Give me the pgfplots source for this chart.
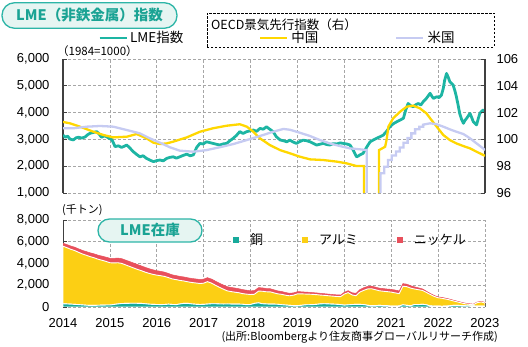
\documentclass[border=0pt]{standalone}
\usepackage{fontspec}
\setmainfont{Liberation Sans}
\newfontfamily\jp{Noto Sans CJK JP}
\newfontfamily\jpp{Noto Sans CJK JP}[CharacterWidth=Proportional]
\usepackage{pgfplots}
\pgfplotsset{compat=1.18}
\usepackage{pgfplotstable}

\definecolor{lmeteal}{HTML}{1DB5A3}
\definecolor{cuteal}{HTML}{17AA9B}
\definecolor{cnyel}{HTML}{FFD700}
\definecolor{alyel}{HTML}{FCCF14}
\definecolor{uslav}{HTML}{C6CBF2}
\definecolor{nired}{HTML}{E8505C}
\definecolor{gridgray}{HTML}{A6A6A6}
\definecolor{axdark}{HTML}{404040}
\definecolor{titleteal}{HTML}{1AA394}
\definecolor{titleline}{HTML}{2DB5A7}
\definecolor{titlefill}{HTML}{E6F5F2}

\pgfplotstableread{
x cu al ni
2014.00 300 5290 270
2014.08 280 5180 290
2014.17 260 5040 300
2014.25 240 4950 310
2014.33 220 4810 320
2014.42 190 4680 330
2014.50 160 4590 340
2014.58 150 4480 350
2014.67 150 4370 360
2014.75 160 4230 370
2014.83 170 4130 380
2014.92 180 4010 390
2015.00 180 3890 410
2015.08 230 3820 420
2015.17 280 3790 430
2015.25 320 3690 440
2015.33 330 3550 440
2015.42 340 3390 450
2015.50 340 3260 450
2015.58 340 3130 450
2015.67 330 3010 440
2015.75 300 2910 440
2015.83 260 2840 430
2015.92 240 2760 420
2016.00 230 2700 410
2016.08 220 2660 400
2016.17 230 2580 390
2016.25 260 2440 380
2016.33 230 2350 380
2016.42 220 2290 370
2016.50 280 2160 370
2016.58 340 2050 370
2016.67 330 1980 370
2016.75 280 1970 370
2016.83 250 1960 370
2016.92 230 1930 370
2017.00 240 1950 370
2017.08 270 2060 370
2017.17 300 1890 370
2017.25 300 1700 380
2017.33 280 1540 380
2017.42 270 1370 380
2017.50 280 1210 380
2017.58 270 1150 380
2017.67 260 1100 380
2017.75 260 1050 370
2017.83 250 980 370
2017.92 210 970 360
2018.00 230 920 340
2018.08 330 840 330
2018.17 380 1080 320
2018.25 300 1150 310
2018.33 280 1120 300
2018.42 260 1130 290
2018.50 260 1040 280
2018.58 250 960 270
2018.67 210 950 260
2018.75 180 900 250
2018.83 150 880 230
2018.92 130 960 210
2019.00 130 1080 200
2019.08 150 1060 190
2019.17 200 990 180
2019.25 210 970 170
2019.33 220 940 160
2019.42 250 880 160
2019.50 290 800 160
2019.58 300 770 150
2019.67 280 750 150
2019.75 260 740 150
2019.83 250 720 150
2019.92 220 730 150
2020.00 170 1020 160
2020.08 200 1120 180
2020.17 230 870 200
2020.25 240 800 220
2020.33 240 1130 230
2020.42 220 1320 240
2020.50 150 1510 240
2020.58 120 1560 240
2020.67 130 1450 240
2020.75 150 1340 240
2020.83 130 1320 240
2020.92 120 1290 240
2021.00 80 1290 250
2021.08 80 1220 260
2021.17 100 1130 250
2021.25 200 1710 240
2021.33 150 1720 230
2021.42 120 1610 220
2021.50 230 1420 200
2021.58 220 1370 170
2021.67 250 1270 140
2021.75 200 1140 110
2021.83 100 1060 90
2021.92 90 880 80
2022.00 80 770 80
2022.08 70 730 80
2022.17 80 645 75
2022.25 120 530 70
2022.33 150 405 65
2022.42 150 310 60
2022.50 130 240 60
2022.58 120 170 60
2022.67 110 135 55
2022.75 100 105 55
2022.83 90 305 55
2022.92 80 385 55
2023.00 70 295 55
}\stock

\pgfplotsset{
  base/.style={
    scale only axis, width=422pt, anchor=south west,
    xmin=2014, xmax=2023,
    tick label style={font=\fontsize{13}{15}\selectfont},
    /pgf/number format/assume math mode=true,
    /pgf/number format/1000 sep={,},
    tick style={axdark, line width=0.8pt},
    tick align=inside, major tick length=4pt,
    grid style={gridgray, line width=0.6pt, dash pattern=on 3pt off 2pt},
  }
}

\begin{document}
\begin{tikzpicture}
\path[use as bounding box] (0pt,0pt) rectangle (528pt,347pt);

% ---------- top: LME index ----------
\begin{axis}[base, at={(63pt,154pt)}, height=134pt,
  ymin=1000, ymax=6000, ytick={1000,2000,...,6000},
  xtick={2014,...,2023}, xticklabels={}, xtick style={draw=none},
  grid=major,
  axis y line*=left, axis x line*=bottom,
  y axis line style={-, draw=axdark, line width=1.3pt},
  x axis line style={draw=none},
  yticklabel style={xshift=-10pt},
  legend style={at={(0.083,1.157)}, anchor=west, draw=none, fill=none,
    inner sep=0pt, nodes={inner sep=0pt, font=\jp\fontsize{13.5}{15}\selectfont}},
  legend image code/.code={\draw[#1] (0pt,0pt) -- (27pt,0pt);},
]
\addplot[lmeteal, line width=2.8pt, line join=round] table {
2014.00 3160
2014.05 3080
2014.10 3120
2014.15 3010
2014.22 2980
2014.28 3060
2014.33 3080
2014.40 3050
2014.47 3090
2014.53 3180
2014.58 3230
2014.65 3260
2014.72 3290
2014.77 3200
2014.82 3080
2014.88 3130
2014.93 3100
2014.98 3040
2015.04 3000
2015.08 2850
2015.11 2730
2015.18 2760
2015.25 2700
2015.30 2740
2015.36 2790
2015.43 2670
2015.50 2540
2015.57 2440
2015.64 2350
2015.71 2390
2015.78 2290
2015.85 2230
2015.93 2170
2016.00 2210
2016.07 2230
2016.14 2200
2016.21 2290
2016.28 2330
2016.35 2350
2016.42 2300
2016.49 2350
2016.56 2400
2016.64 2450
2016.71 2390
2016.78 2420
2016.85 2700
2016.92 2850
2016.99 2830
2017.06 2910
2017.13 2880
2017.20 2850
2017.27 2820
2017.34 2790
2017.41 2830
2017.49 2850
2017.56 2950
2017.63 3040
2017.70 3150
2017.77 3290
2017.84 3220
2017.92 3290
2017.99 3320
2018.06 3350
2018.13 3300
2018.20 3410
2018.27 3380
2018.34 3470
2018.41 3380
2018.48 3290
2018.55 3100
2018.63 2980
2018.70 2950
2018.77 2910
2018.84 2970
2018.91 2900
2018.98 2850
2019.05 2920
2019.12 2970
2019.20 2950
2019.27 2910
2019.34 2850
2019.41 2790
2019.48 2820
2019.55 2850
2019.62 2810
2019.69 2790
2019.76 2840
2019.84 2830
2019.91 2870
2019.98 2850
2020.05 2830
2020.12 2790
2020.19 2600
2020.26 2350
2020.30 2380
2020.33 2420
2020.40 2480
2020.48 2720
2020.55 2910
2020.62 2980
2020.69 3040
2020.76 3100
2020.83 3160
2020.90 3300
2020.97 3470
2021.04 3580
2021.12 3660
2021.19 3720
2021.26 3790
2021.31 4100
2021.36 4340
2021.42 4250
2021.47 4220
2021.53 4300
2021.58 4340
2021.63 4280
2021.68 4400
2021.75 4530
2021.80 4650
2021.83 4720
2021.87 4600
2021.90 4530
2021.97 4590
2022.02 4560
2022.07 4650
2022.11 4900
2022.14 5210
2022.18 5460
2022.22 5300
2022.25 5150
2022.32 5030
2022.36 4800
2022.39 4590
2022.43 4250
2022.46 3970
2022.50 3750
2022.54 3600
2022.57 3700
2022.61 3790
2022.68 3970
2022.72 3800
2022.75 3660
2022.82 3540
2022.86 3800
2022.89 3970
2022.93 4050
2022.96 4100
2023.00 4030
};
\addlegendentry{\hspace*{2pt}LME指数}
\end{axis}

% ---------- top: OECD CLI (right axis) ----------
\begin{axis}[base, at={(63pt,154pt)}, height=134pt,
  ymin=96, ymax=106, ytick={96,98,...,106},
  xtick=\empty,
  axis y line*=right, axis x line=none,
  y axis line style={-, draw=axdark, line width=1.3pt},
  yticklabel style={xshift=8pt},
  legend columns=2,
  legend style={at={(0.282,1.157)}, anchor=west, draw=none, fill=none,
    inner sep=0pt, /tikz/column sep=0pt,
    nodes={inner sep=0pt, font=\jp\fontsize{13.5}{15}\selectfont}},
  legend image code/.code={\path[draw=none,fill=none] (-78pt,0pt) -- (0pt,0pt); \draw[#1] (0pt,0pt) -- (27pt,0pt);},
]
\addplot[cnyel, line width=2.3pt] table {
2014.00 101.3
2014.15 101.2
2014.36 100.95
2014.65 100.57
2014.86 100.33
2015.07 100.15
2015.36 100.2
2015.57 100.4
2015.78 100.08
2015.93 99.75
2016.07 99.65
2016.21 99.7
2016.35 99.83
2016.64 100.15
2016.92 100.57
2017.20 100.83
2017.49 101.02
2017.77 101.13
2017.92 100.95
2018.06 100.57
2018.20 100.08
2018.41 99.58
2018.63 99.2
2018.84 98.96
2019.05 98.71
2019.27 98.51
2019.55 98.46
2019.84 98.34
2020.05 98.21
2020.26 98.01
2020.42 98.01
2020.42 90
2020.74 90
2020.74 99.2
2020.87 99.45
2020.90 99.95
2020.94 100.95
2021.04 101.57
2021.19 102.07
2021.33 102.44
2021.47 102.52
2021.61 102.32
2021.75 101.95
2021.83 101.57
2021.97 100.95
2022.11 100.33
2022.25 99.95
2022.39 99.7
2022.54 99.5
2022.68 99.33
2022.82 99.08
2022.96 98.84
2023.00 98.78
};
\addlegendentry{\hspace*{3pt}中国}
\addplot[uslav, line width=2.3pt] table {
2014.00 100.83
2014.22 100.83
2014.51 100.95
2014.79 101.0
2015.07 100.95
2015.36 100.7
2015.64 100.45
2015.85 100.08
2016.07 99.75
2016.28 99.41
2016.49 99.16
2016.78 99.08
2017.06 99.2
2017.34 99.41
2017.63 99.65
2017.92 99.95
2018.20 100.25
2018.48 100.57
2018.70 100.78
2018.84 100.72
2019.05 100.5
2019.27 100.25
2019.48 99.95
2019.69 99.7
2019.91 99.5
2020.12 99.33
2020.33 99.26
2020.48 99.2
2020.48 90
2020.77 90
2020.77 97.47
2020.85 97.47
2020.85 97.96
2020.93 97.96
2020.93 98.46
2021.01 98.46
2021.01 98.8
2021.10 98.8
2021.10 99.1
2021.18 99.1
2021.18 99.4
2021.26 99.4
2021.26 99.75
2021.35 99.75
2021.35 100.1
2021.43 100.1
2021.43 100.45
2021.51 100.45
2021.51 100.75
2021.60 100.75
2021.60 100.95
2021.68 100.95
2021.68 101.1
2021.83 101.2
2021.97 101.13
2022.11 100.95
2022.25 100.75
2022.39 100.57
2022.54 100.4
2022.68 100.08
2022.82 99.7
2022.96 99.33
2023.00 99.2
};
\addlegendentry{\hspace*{3pt}米国}
\end{axis}

% ---------- bottom: LME stocks ----------
\begin{axis}[base, at={(63pt,40pt)}, height=87pt,
  ymin=0, ymax=8000, ytick={0,2000,...,8000},
  xtick={2014,...,2023},
  grid=major,
  axis y line*=left, axis x line*=bottom,
  axis line style={-, draw=axdark, line width=1pt},
  stack plots=y,
  xticklabel style={/pgf/number format/1000 sep={}, yshift=-7.5pt},
  yticklabel style={xshift=-10pt},
  legend columns=3,
  legend style={at={(0.310,0.770)}, anchor=west, draw=none, fill=none,
    inner sep=0pt, /tikz/column sep=0pt,
    nodes={inner sep=0pt, font=\jpp\fontsize{13}{15}\selectfont}},
  legend image code/.code={\path[draw=none,fill=none] (-39pt,0pt) -- (0pt,0pt); \fill[#1, draw=none] (0pt,-3pt) rectangle (6pt,3pt);},
]
\addplot[fill=cuteal, draw=white, line width=0.9pt, forget plot] table[x=x, y=cu] {\stock} \closedcycle;
\addplot[fill=alyel, draw=white, line width=0.9pt, forget plot] table[x=x, y=al] {\stock} \closedcycle;
\addplot[fill=nired, draw=nired, line width=0.5pt, forget plot] table[x=x, y=ni] {\stock} \closedcycle;
\addlegendimage{fill=cuteal}
\addlegendentry{\hspace*{11pt}銅}
\addlegendimage{fill=alyel}
\addlegendentry{\hspace*{11pt}アルミ}
\addlegendimage{fill=nired}
\addlegendentry{\hspace*{11pt}ニッケル}
\end{axis}

% ---------- decorations ----------
\node[draw=titleline, line width=1.3pt, fill=titlefill, rounded corners=12.5pt,
  minimum width=175pt, minimum height=25.5pt, inner sep=0pt,
  font=\jp\bfseries\fontsize{14.5}{16}\selectfont, text=titleteal]
  at (89.5pt,331.5pt) {LME（非鉄金属）指数};
\draw[black, line width=0.9pt, dash pattern=on 2.5pt off 1.5pt] (207pt,300pt) rectangle (494pt,334pt);
\node[anchor=west, inner sep=0pt, font=\jp\fontsize{12.5}{14}\selectfont] at (211pt,322pt) {OECD景気先行指数（右）};
\node[anchor=west, inner sep=0pt, font=\jp\fontsize{11.5}{13}\selectfont] at (57pt,296pt) {（1984=1000）};
\node[anchor=west, inner sep=0pt, font=\jp\fontsize{11}{12}\selectfont] at (62pt,137pt) {(千トン)};
\node[draw=titleline, line width=1.3pt, fill=titlefill, rounded corners=11.5pt,
  minimum width=104pt, minimum height=23pt, inner sep=0pt,
  font=\jp\bfseries\fontsize{14.5}{16}\selectfont, text=titleteal]
  at (150pt,116.5pt) {LME在庫};
\node[anchor=east, inner sep=0pt, font=\jpp\fontsize{11}{12}\selectfont] at (498pt,10pt) {（出所：Bloombergより住友商事グローバルリサーチ作成）};
\end{tikzpicture}
\end{document}
